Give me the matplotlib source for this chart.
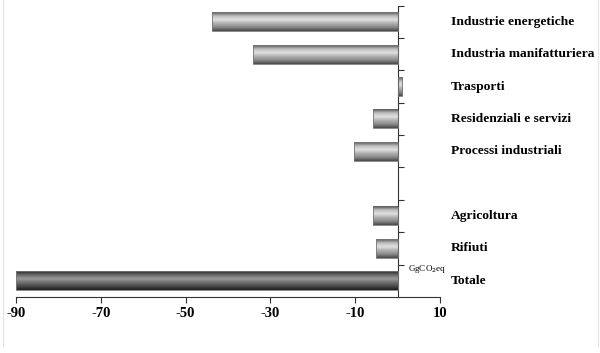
import matplotlib.pyplot as plt
import numpy as np
from matplotlib.colors import LinearSegmentedColormap
from matplotlib.lines import Line2D

# settori (dall'alto in basso), lo slot vuoto resta senza barra
settori = ["Industrie energetiche", "Industria manifatturiera", "Trasporti",
           "Residenziali e servizi", "Processi industriali", "",
           "Agricoltura", "Rifiuti", "Totale"]
valori = [-43.7, -34.2, 1.0, -5.8, -10.2, None, -5.8, -5.1, -90.0]
xticks = [-90, -70, -50, -30, -10, 10]

plt.rcParams['font.family'] = ['Liberation Serif', 'DejaVu Serif']

fig = plt.figure(figsize=(6, 3.53), dpi=100)
ax = fig.add_axes([0.0267, 0.159, 0.7067, 0.825])

n = len(settori)
ypos = np.arange(n)[::-1]  # primo in alto
h = 0.58

cm_chiaro = LinearSegmentedColormap.from_list(
    "c", ["#5a5a5a", "#bdbdbd", "#e0e0e0", "#b0b0b0", "#8a8a8a", "#4a4a4a"])
cm_scuro = LinearSegmentedColormap.from_list(
    "s", ["#2a2a2a", "#6a6a6a", "#9a9a9a", "#707070", "#4a4a4a", "#1e1e1e"])
grad = np.linspace(0, 1, 64).reshape(-1, 1)

for nome, v, y in zip(settori, valori, ypos):
    if v is None:
        continue
    ax.barh(y, v, height=h, color="none", edgecolor="#777777",
            linewidth=0.6, zorder=3)
    x0, x1 = sorted([0, v])
    cmap = cm_scuro if nome == "Totale" else cm_chiaro
    ax.imshow(grad, cmap=cmap, aspect="auto", origin="upper",
              extent=[x0, x1, y - h / 2, y + h / 2], zorder=2,
              interpolation="bilinear")

for nome, y in zip(settori, ypos):
    ax.text(1.025, y, nome, transform=ax.get_yaxis_transform(),
            ha="left", va="center", fontsize=9.7, fontweight="bold")

ax.text(2.5, ypos[-1] + 0.35, "GgCO$_2$eq", fontsize=6.5, ha="left",
        va="center")

ax.set_xlim(-90, 10)
ax.set_ylim(-0.5, n - 0.5)
ax.set_xticks(xticks)
ax.set_xticklabels([str(t) for t in xticks], fontsize=10.5, fontweight="bold")
ax.set_yticks(np.arange(n) + 0.5)
ax.set_yticklabels([])

ax.spines['left'].set_position(('data', 0))
ax.spines['top'].set_visible(False)
ax.spines['right'].set_visible(False)
for s in ['left', 'bottom']:
    ax.spines[s].set_color("#333333")
    ax.spines[s].set_linewidth(0.8)
ax.tick_params(axis='y', direction='in', length=4, width=0.8, color="#333333")
ax.tick_params(axis='x', direction='out', length=4, width=0.8, color="#333333", pad=3)

# bordo chiaro dell'immagine originale
for xf in [2.5 / 600, 597.5 / 600]:
    fig.add_artist(Line2D([xf, xf], [0.02, 1], transform=fig.transFigure,
                          color="#e4e4e4", linewidth=0.8))

fig.savefig("out.png", dpi=100)
